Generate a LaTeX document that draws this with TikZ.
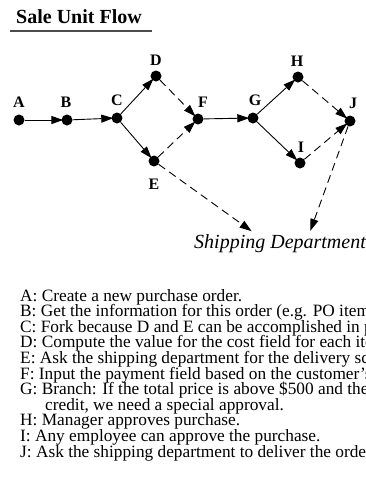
\documentclass[tikz,border=0pt]{standalone}
\usepackage{fontspec}
\setmainfont{Liberation Serif}
\usetikzlibrary{arrows.meta}
\begin{document}
\begin{tikzpicture}[x=1pt,y=-1pt,
  dot/.style={circle,fill=black,inner sep=0pt,minimum size=11pt},
  lbl/.style={font=\fontsize{16}{18}\selectfont\bfseries,inner sep=0pt,anchor=base},
  arr/.style={-{Triangle[length=12pt,width=8pt]},line width=0.9pt,shorten >=-2pt},
  darr/.style={arr,dash pattern=on 8pt off 5pt},
  item/.style={anchor=base west,inner sep=0pt,font=\fontsize{17.3}{16}\selectfont}]
\useasboundingbox (0,0) rectangle (366,480);
\clip (0,0) rectangle (366,480);
% title
\node[anchor=base west,inner sep=0pt,font=\fontsize{20}{22}\selectfont\bfseries] (title) at (16,23) {Sale Unit Flow};
\coordinate (u1) at (10,31);
\coordinate (u2) at (152,31);
\draw[black!70,line width=1.3pt] (u1) -- (u2);
% dots
\node[dot] (A) at (19,120) {};
\node[dot] (B) at (67,120) {};
\node[dot] (C) at (117,118) {};
\node[dot] (D) at (156,76) {};
\node[dot] (E) at (154,161) {};
\node[dot] (F) at (198,119) {};
\node[dot] (G) at (253,118) {};
\node[dot] (H) at (298,77) {};
\node[dot] (I) at (300,163) {};
\node[dot] (J) at (350,121) {};
% labels
\node[lbl] (lA) at (19,107) {A};
\node[lbl] (lB) at (66,107) {B};
\node[lbl] (lC) at (117,105) {C};
\node[lbl] (lD) at (156,65) {D};
\node[lbl] (lE) at (154,189) {E};
\node[lbl] (lF) at (203,107) {F};
\node[lbl] (lG) at (255,105) {G};
\node[lbl] (lH) at (297,66) {H};
\node[lbl] (lI) at (301,152) {I};
\node[lbl] (lJ) at (353,108) {J};
% shipping
\node[anchor=base west,inner sep=0pt,font=\fontsize{20}{22}\selectfont\itshape] (ship) at (194,248) {Shipping Department};
\coordinate (s1) at (250,230);
\coordinate (s2) at (311,229);
% connectors
\draw[arr] (A) -- (B);
\draw[arr] (B) -- (C);
\draw[arr] (C) -- (D);
\draw[arr] (C) -- (E);
\draw[darr] (D) -- (F);
\draw[darr] (E) -- (F);
\draw[arr] (F) -- (G);
\draw[arr] (G) -- (H);
\draw[arr] (G) -- (I);
\draw[darr] (H) -- (J);
\draw[darr] (I) -- (J);
\draw[darr] (E) -- (s1);
\draw[darr] (J) -- (s2);
% list
\node[item] (tA) at (20,301) {A: Create a new purchase order.};
\node[item] (tB) at (20,316.6) {B: Get the information for this order (e.g. PO items};
\node[item] (tC) at (20,332.2) {C: Fork because D and E can be accomplished in parallel};
\node[item] (tD) at (20,347.8) {D: Compute the value for the cost field for each item};
\node[item] (tE) at (20,363.4) {E: Ask the shipping department for the delivery schedule};
\node[item] (tF) at (20,379) {F: Input the payment field based on the customer’s};
\node[item] (tG) at (20,394.6) {G: Branch: If the total price is above \$500 and the};
\node[item] (tG2) at (45,410.2) {credit, we need a special approval.};
\node[item] (tH) at (20,425.8) {H: Manager approves purchase.};
\node[item] (tI) at (20,441.4) {I: Any employee can approve the purchase.};
\node[item] (tJ) at (20,457) {J: Ask the shipping department to deliver the order};
\end{tikzpicture}
\end{document}
